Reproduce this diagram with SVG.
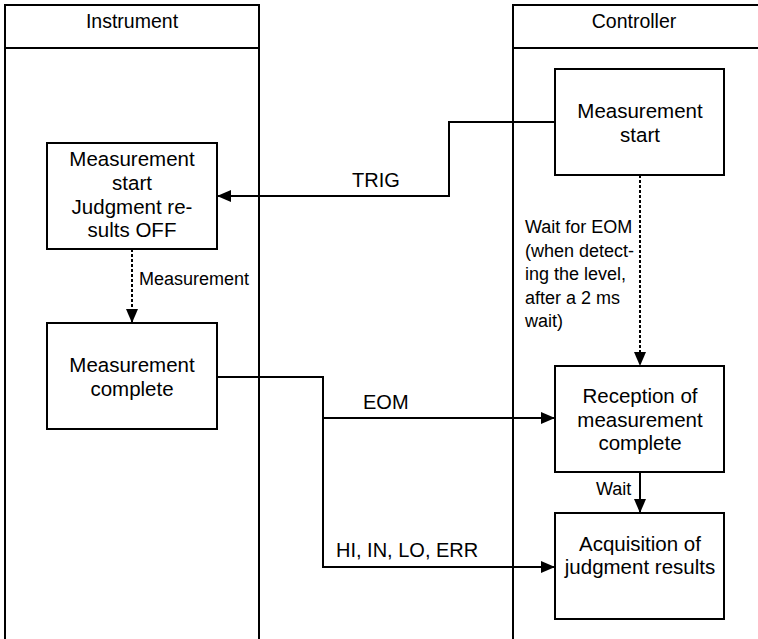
<svg xmlns="http://www.w3.org/2000/svg" width="758" height="639" viewBox="0 0 758 639">
<style>
text{font-family:"Liberation Sans",Arial,sans-serif;font-size:20.5px;fill:#000}
.c{text-anchor:middle}
.h{font-size:19.5px}
.lb{font-size:20px}
.sm{font-size:18px}
.lane{fill:none;stroke:#000;stroke-width:2}
.box{fill:#fff;stroke:#000;stroke-width:2}
.ln{fill:none;stroke:#000;stroke-width:2}
.ds{fill:none;stroke:#000;stroke-width:2;stroke-dasharray:3 2}
</style>
<defs>
<marker id="ah" markerUnits="userSpaceOnUse" markerWidth="14" markerHeight="12" refX="14" refY="6" orient="auto">
<path d="M0,0 L14,6 L0,12 Z" fill="#000"/>
</marker>
</defs>
<rect width="758" height="639" fill="#fff"/>
<g id="lane-instrument">
<path class="lane" d="M5,639 V5 H259 V639 M5,48 H259"/>
<text class="c h" x="132" y="28">Instrument</text>
</g>
<g id="lane-controller">
<path class="lane" d="M513,639 V5 H758 M513,48 H758"/>
<text class="c h" x="634" y="28">Controller</text>
</g>
<g id="connectors">
<path class="ln" d="M555,122 H449 V196 H217" marker-end="url(#ah)"/>
<path class="ds" d="M132,249 V323" marker-end="url(#ah)"/>
<path class="ds" d="M640,175 V366" marker-end="url(#ah)"/>
<path class="ln" d="M217,377 H323 V567 H555" marker-end="url(#ah)"/>
<path class="ln" d="M323,418 H555" marker-end="url(#ah)"/>
<path class="ln" d="M640,472 V513" marker-end="url(#ah)"/>
<text class="lb" x="352" y="187">TRIG</text>
<text class="sm" x="139" y="285">Measurement</text>
<text class="lb" x="363" y="409">EOM</text>
<text class="lb" x="336" y="557">HI, IN, LO, ERR</text>
<text class="sm" x="596" y="495">Wait</text>
<text class="sm" x="525" y="233">Wait for EOM</text>
<text class="sm" x="525" y="256.5">(when detect-</text>
<text class="sm" x="525" y="280">ing the level,</text>
<text class="sm" x="525" y="303.5">after a 2 ms</text>
<text class="sm" x="525" y="327">wait)</text>
</g>
<g id="ctrl-start">
<rect class="box" x="555" y="69" width="169" height="106"/>
<text class="c" x="640" y="118">Measurement</text>
<text class="c" x="640" y="142">start</text>
</g>
<g id="inst-start">
<rect class="box" x="47" y="143" width="170" height="106"/>
<text class="c" x="132" y="166">Measurement</text>
<text class="c" x="132" y="190">start</text>
<text class="c" x="132" y="214">Judgment re-</text>
<text class="c" x="132" y="237">sults OFF</text>
</g>
<g id="inst-complete">
<rect class="box" x="47" y="323" width="170" height="106"/>
<text class="c" x="132" y="372">Measurement</text>
<text class="c" x="132" y="396">complete</text>
</g>
<g id="ctrl-reception">
<rect class="box" x="555" y="366" width="169" height="106"/>
<text class="c" x="640" y="403">Reception of</text>
<text class="c" x="640" y="427">measurement</text>
<text class="c" x="640" y="450">complete</text>
</g>
<g id="ctrl-acquisition">
<rect class="box" x="555" y="513" width="169" height="106"/>
<text class="c" x="640" y="551">Acquisition of</text>
<text class="c" x="640" y="574">judgment results</text>
</g>
</svg>
